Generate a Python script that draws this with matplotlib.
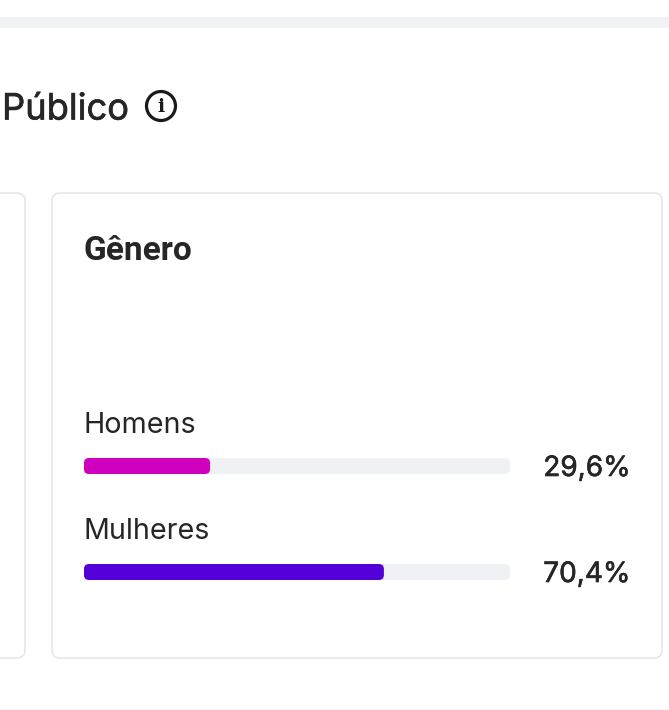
import matplotlib
matplotlib.use("Agg")
import matplotlib.pyplot as plt
import matplotlib.patheffects as pe
from matplotlib.patches import FancyBboxPatch, Rectangle, Circle

# data
categories = ["Homens", "Mulheres"]
values = [29.6, 70.4]
value_labels = ["29,6%", "70,4%"]
bar_colors = ["#cf00bd", "#5400d9"]

TEXT = "#262626"
W, H = 669, 710

def px(size):
    return size * 0.72

# Inter renders a bit light here, thicken it slightly
thick = [pe.withStroke(linewidth=0.45, foreground=TEXT)]

fig = plt.figure(figsize=(W / 100, H / 100), dpi=100, facecolor="white")

# page background in pixel coordinates
bg = fig.add_axes([0, 0, 1, 1])
bg.set_xlim(0, W)
bg.set_ylim(H, 0)
bg.axis("off")

bg.add_patch(Rectangle((0, 17), W, 11, fc="#f0f2f5", ec="none"))
bg.add_patch(Rectangle((0, 709), W, 1, fc="#f2f2f2", ec="none"))

for x0, x1 in [(-60, 25), (52, 662)]:
    bg.add_patch(FancyBboxPatch((x0, 193), x1 - x0, 465, boxstyle="round,pad=0,rounding_size=8",
                                fc="white", ec="#e5e5e5", lw=1.1))

bg.text(2, 119.5, "Público", fontfamily="Inter", fontsize=px(36.3), color=TEXT, va="baseline",
        path_effects=thick)
bg.add_patch(Circle((161, 106), 14.5, fc="white", ec="#1a1a1a", lw=2.3))
bg.text(161, 106.5, "i", fontfamily="DejaVu Serif", fontweight="bold", fontsize=px(19), color="#1a1a1a",
        ha="center", va="center")
bg.text(83.3, 260, "Gênero", fontfamily="Roboto", fontweight="bold", fontsize=px(33.4), color=TEXT, va="baseline")

# bars: x is percent, track spans 84-510 px
ax = fig.add_axes([84 / W, 0, (510 - 84) / W, 1])
ax.set_xlim(0, 100)
ax.set_ylim(H, 0)
ax.axis("off")
ax.patch.set_alpha(0)

xu = 100 / 426  # percent per pixel
y_centers = [466, 572]
for name, v, lab, col, yc in zip(categories, values, value_labels, bar_colors, y_centers):
    for width, c in [(100, "#f0f1f5"), (v, col)]:
        ax.add_patch(FancyBboxPatch((0, yc - 8), width, 16,
                                    boxstyle="round,pad=0,rounding_size=%.3f" % (5 * xu),
                                    mutation_aspect=1 / xu, fc=c, ec="none"))
    ax.text(0, yc - 32.7, name, fontfamily="Inter", fontsize=px(28.7), color=TEXT, va="baseline")
    ax.text((630.5 - 84) * xu, yc + 10, lab, fontfamily="Inter", fontsize=px(28), color=TEXT,
            ha="right", va="baseline", clip_on=False, path_effects=thick)

fig.savefig("out.png", dpi=100, facecolor="white")
